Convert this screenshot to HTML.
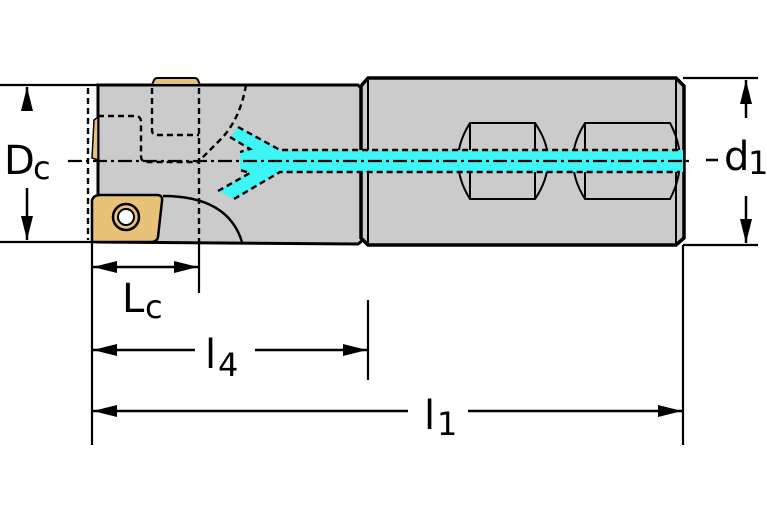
<!DOCTYPE html>
<html><head><style>html,body{margin:0;padding:0;background:#fff}svg{display:block}</style></head>
<body>
<svg width="767" height="523" viewBox="0 0 767 523" xmlns="http://www.w3.org/2000/svg" font-family="'DejaVu Sans','Liberation Sans',sans-serif">
<defs>
<marker id="a" viewBox="0 0 24 12" refX="24" refY="6" markerWidth="24" markerHeight="12" markerUnits="userSpaceOnUse" orient="auto-start-reverse"><path d="M0,0 L24,6 L0,12 z" fill="#000"/></marker>
</defs>
<g stroke="#000" stroke-width="2.2" fill="none">
<line x1="0" y1="85" x2="100" y2="85"/>
<line x1="0" y1="242" x2="100" y2="242"/>
<line x1="683" y1="78" x2="758" y2="78"/>
<line x1="683" y1="245" x2="758" y2="245"/>
<line x1="92" y1="242" x2="92" y2="445"/>
<line x1="199" y1="242" x2="199" y2="293"/>
<line x1="368" y1="300" x2="368" y2="380"/>
<line x1="683" y1="245" x2="683" y2="445"/>
</g>
<path d="M98,85 L358,85 L363,90 L363,240 L358,244 L98,242 Z" fill="#cbcbcb" stroke="#000" stroke-width="3"/>
<path d="M368,78 L676,78 L684,86 L684,238 L676,245 L368,245 L361,238 L361,86 Z" fill="#cbcbcb" stroke="#000" stroke-width="3.5"/>
<line x1="368" y1="80" x2="368" y2="244" stroke="#000" stroke-width="2"/>
<line x1="676" y1="80" x2="676" y2="244" stroke="#000" stroke-width="2"/>
<g fill="none" stroke="#000" stroke-width="2">
<path d="M470,123 L535,123 Q548,142 548,160 Q548,180 535,199 L470,199 Q458,180 458,160 Q458,142 470,123 Z"/>
<line x1="470" y1="123" x2="470" y2="199"/><line x1="535" y1="123" x2="535" y2="199"/>
<path d="M585,123 L670,123 Q680,142 680,160 Q680,180 670,199 L585,199 Q573,180 573,160 Q573,142 585,123 Z"/>
<line x1="585" y1="123" x2="585" y2="199"/>
</g>
<path d="M238,127 L280,150 L683,150 L683,172 L280,172 L234,199 L218,191 L250,173 L240,170 L240,152 L250,149 L230,137 Z" fill="#3ff4f4"/>
<g fill="none" stroke="#000" stroke-width="2.4" stroke-dasharray="6,4">
<path d="M238,127 L280,150 L680,150"/>
<path d="M234,199 L280,172 L680,172"/>
<path d="M230,137 L250,149 L240,152"/>
<path d="M218,191 L250,173 L240,170"/>
<path d="M246,85 Q240,120 220,140 Q205,155 200,160"/>
<path d="M88,88 L88,240"/>
<path d="M152,88 L152,130 Q152,135 157,135 L199,135"/>
<path d="M199,88 L199,242"/>
<path d="M98,116 L135,116 Q141,116 141,122 L141,156 Q141,162 147,162 L200,162"/>
</g>
<path d="M163,196 Q228,196 242,242" fill="none" stroke="#000" stroke-width="2.4"/>
<line x1="68" y1="161" x2="690" y2="161" stroke="#000" stroke-width="2.2" stroke-dasharray="14,4,3,4"/>
<path d="M92,242 L92,200 Q94,195 100,195 L157,195 Q163,195 162,201 L158,237 Q157,242 151,242 Z" fill="#e9c27a" stroke="#000" stroke-width="2.5"/>
<circle cx="126" cy="217" r="13" fill="#e9c27a" stroke="#000" stroke-width="2.5"/>
<circle cx="126" cy="217" r="8" fill="#fff" stroke="#000" stroke-width="2"/>
<path d="M152,85 L154,80 Q155,78 158,78 L194,78 Q197,78 198,80 L200,85 Z" fill="#e9c27a" stroke="#000" stroke-width="2"/>
<path d="M98,117 L94,120 L92,158 L98,160 Z" fill="#e9c27a" stroke="#000" stroke-width="1.5"/>
<g stroke="#000" stroke-width="2.5" fill="none">
<line x1="27" y1="110" x2="27" y2="87" marker-end="url(#a)"/>
<line x1="27" y1="188" x2="27" y2="240" marker-end="url(#a)"/>
<line x1="746" y1="118" x2="746" y2="80" marker-end="url(#a)"/>
<line x1="746" y1="196" x2="746" y2="243" marker-end="url(#a)"/>
<line x1="706" y1="160" x2="718" y2="160"/>
<line x1="93" y1="267" x2="198" y2="267" marker-start="url(#a)" marker-end="url(#a)"/>
<line x1="93" y1="350" x2="195" y2="350" marker-start="url(#a)"/>
<line x1="255" y1="350" x2="367" y2="350" marker-end="url(#a)"/>
<line x1="93" y1="411" x2="408" y2="411" marker-start="url(#a)"/>
<line x1="468" y1="411" x2="682" y2="411" marker-end="url(#a)"/>
</g>
<g fill="#000" font-size="40">
<text x="4" y="174">D</text><text x="33" y="179" font-size="32">c</text>
<text x="724" y="170">d</text><text x="748" y="174" font-size="32">1</text>
<text x="122" y="312">L</text><text x="145" y="318" font-size="32">c</text>
<text x="205" y="368">l</text><text x="218" y="376" font-size="32">4</text>
<text x="424" y="429">l</text><text x="437" y="435" font-size="32">1</text>
</g>
</svg>
</body></html>
